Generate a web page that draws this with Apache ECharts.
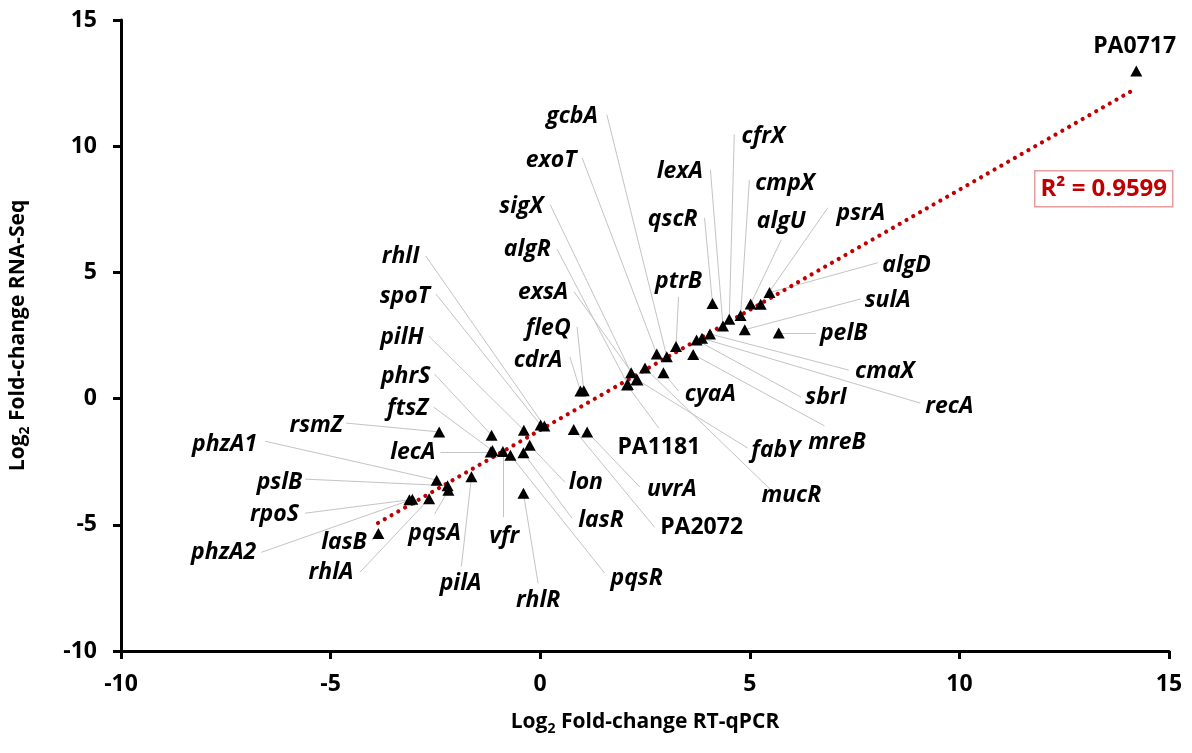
<!DOCTYPE html>
<html>
<head>
<meta charset="utf-8">
<script src="https://cdn.jsdelivr.net/npm/echarts@6/dist/echarts.min.js"></script>
<style>html,body{margin:0;padding:0;background:#fff;}#chart{width:1192px;height:753px;}</style>
</head>
<body>
<div id="chart"></div>
<script>
// ---- data ----
const genes = ['lasB','rpoS','phzA2','rhlA','phzA1','pslB','pqsA','pilA','rsmZ','phrS','lecA','ftsZ','vfr','pqsR','lasR','lon','rhlR','pilH','spoT','rhlI','PA2072','uvrA','cdrA','fleQ','PA1181','algR','sigX','exsA','fabY','mucR','exoT','gcbA','cyaA','ptrB','mreB','sbrI','recA','cmaX','qscR','lexA','cfrX','cmpX','sulA','algU','psrA','algD','pelB','PA0717'];
const rtqpcr = [-3.86,-3.12,-3.05,-2.65,-2.47,-2.21,-2.19,-1.64,-2.41,-1.16,-1.18,-1.14,-0.89,-0.71,-0.40,-0.25,-0.40,-0.39,0.01,0.10,0.80,1.12,0.96,1.04,2.07,2.09,2.17,2.30,2.32,2.50,2.78,3.02,2.94,3.24,3.65,3.73,3.86,4.05,4.11,4.36,4.51,4.78,4.88,5.02,5.26,5.47,5.69,14.22];
const rnaseq = [-5.34,-4.01,-3.99,-3.97,-3.23,-3.45,-3.63,-3.10,-1.32,-1.45,-2.12,-2.06,-2.10,-2.24,-2.15,-1.85,-3.75,-1.25,-1.05,-1.09,-1.22,-1.32,0.30,0.31,0.54,0.56,1.02,0.76,0.74,1.21,1.77,1.66,1.02,2.06,1.75,2.32,2.39,2.56,3.77,2.88,3.14,3.29,2.73,3.75,3.74,4.20,2.60,12.98];
const trendX = [-3.87, 14.12];
const trendY = [-4.93, 12.2];
const rSquared = '0.9599';
const xTicks = [-10, -5, 0, 5, 10, 15];
const yTicks = [-10, -5, 0, 5, 10, 15];

// ---- label layout (annotation placement, in axis units): text centre x,y ; leader start x,y ----
const labelLayout = {
  lasB:[-4.68,-5.69,-4.01,-5.62], rpoS:[-6.34,-4.58,-5.61,-4.54], phzA2:[-7.55,-6.09,-6.65,-6.09],
  rhlA:[-4.99,-6.88,-4.30,-6.88], phzA1:[-7.53,-1.81,-6.56,-1.69], pslB:[-6.22,-3.31,-5.61,-3.19],
  pqsA:[-2.52,-5.34,-2.52,-4.58], pilA:[-1.90,-7.32,-1.88,-6.65], rsmZ:[-5.34,-1.05,-4.63,-0.97],
  phrS:[-3.21,0.89,-2.52,0.97], lecA:[-3.04,-2.12,-2.38,-2.12], ftsZ:[-3.16,-0.38,-2.54,-0.34],
  vfr:[-0.86,-5.46,-0.89,-4.70], pqsR:[2.30,-7.12,1.54,-6.92], lasR:[1.45,-4.82,0.76,-4.74],
  lon:[1.09,-3.31,0.59,-3.31], rhlR:[-0.05,-8.00,-0.05,-7.32], pilH:[-3.30,2.44,-2.66,2.48],
  spoT:[-3.23,4.03,-2.49,4.15], rhlI:[-3.33,5.62,-2.73,5.65], PA2072:[3.85,-5.10,2.73,-5.10],
  uvrA:[3.14,-3.59,2.38,-3.51], cdrA:[-0.05,1.53,0.71,1.65], fleQ:[0.19,2.76,0.88,2.84],
  PA1181:[2.83,-1.92,2.83,-1.17], algR:[-0.31,5.89,0.40,5.93], sigX:[-0.45,7.60,0.24,7.68],
  exsA:[0.07,4.19,0.81,4.23], fabY:[5.62,-2.04,4.95,-1.96], mucR:[5.99,-3.83,5.51,-3.63],
  exoT:[0.26,9.42,1.00,9.54], gcbA:[0.76,11.17,1.59,11.25], cyaA:[4.06,0.18,3.30,0.30],
  ptrB:[3.30,4.66,3.30,4.03], mreB:[7.08,-1.73,6.78,-1.08], sbrI:[6.82,0.06,6.22,0.06],
  recA:[9.76,-0.30,9.07,-0.18], cmaX:[8.22,1.09,7.36,1.13], qscR:[3.16,7.08,3.92,7.16],
  lexA:[3.33,8.99,4.06,9.07], cfrX:[5.32,10.38,4.63,10.46], cmpX:[5.84,8.51,4.99,8.67],
  sulA:[8.29,3.87,7.65,3.95], algU:[5.75,7.00,5.75,6.29], psrA:[7.65,7.32,6.86,7.56],
  algD:[8.74,5.26,8.05,5.38], pelB:[7.24,2.60,6.58,2.60], PA0717:[14.18,13.95,null,null]
};

const FONT = 'Open Sans';
const chart = echarts.init(document.getElementById('chart'));

const points = genes.map((g, i) => [rtqpcr[i], rnaseq[i], g]);
const leaderData = [];
const labelData = [];
genes.forEach((g, i) => {
  const L = labelLayout[g];
  if (!L) return;
  labelData.push({
    value: [L[0], L[1]], name: g,
    label: {
      show: true, position: 'inside', formatter: g, opacity: 1,
      color: '#000', fontFamily: FONT, fontWeight: 'bold', fontSize: 23,
      fontStyle: /^PA\d/.test(g) ? 'normal' : 'italic'
    }
  });
  if (L[2] !== null) {
    leaderData.push({ coords: [[L[2], L[3]], [rtqpcr[i], rnaseq[i]]] });
  }
});

const axisCommon = {
  type: 'value', min: -10, max: 15, interval: 5,
  splitLine: { show: false },
  axisLine: { onZero: false, lineStyle: { color: '#000', width: 3 } },
  axisTick: { show: true, inside: false, length: 8, lineStyle: { color: '#000', width: 3 } },
  axisLabel: { color: '#000', fontFamily: FONT, fontWeight: 'bold', fontSize: 23 },
  nameLocation: 'middle',
  nameTextStyle: {
    rich: {
      a: { fontFamily: FONT, fontWeight: 'bold', fontSize: 21, color: '#000', lineHeight: 27 },
      s: { fontFamily: FONT, fontWeight: 'bold', fontSize: 14, color: '#000', lineHeight: 15, verticalAlign: 'bottom' }
    }
  }
};

chart.setOption({
  animation: false,
  backgroundColor: '#fff',
  grid: { left: 117, right: 23, top: 20, bottom: 102, containLabel: false },
  xAxis: Object.assign({}, axisCommon, {
    name: '{a|Log}{s|2}{a| Fold-change RT-qPCR}', nameGap: 58,
    axisLabel: Object.assign({}, axisCommon.axisLabel, { margin: 22, formatter: v => xTicks.includes(v) ? String(v) : '' })
  }),
  yAxis: Object.assign({}, axisCommon, {
    name: '{a|Log}{s|2}{a| Fold-change RNA-Seq}', nameGap: 89, nameRotate: 90,
    axisLabel: Object.assign({}, axisCommon.axisLabel, { margin: 24, formatter: v => yTicks.includes(v) ? String(v) : '' })
  }),
  series: [
    {
      type: 'lines', coordinateSystem: 'cartesian2d', z: 1, silent: true,
      lineStyle: { color: '#c4c4c4', width: 1, opacity: 1 },
      data: leaderData
    },
    {
      type: 'line', z: 2, silent: true, symbol: 'none',
      data: trendX.map((x, i) => [x, trendY[i]]),
      lineStyle: { color: '#c00000', width: 4.2, type: [0.01, 7.8], cap: 'round' }
    },
    {
      type: 'scatter', z: 3, symbol: 'triangle', symbolSize: [12, 11],
      itemStyle: { color: '#000', opacity: 1 },
      data: points
    },
    {
      type: 'scatter', z: 4, symbolSize: 0.1, silent: true,
      itemStyle: { color: 'rgba(0,0,0,0)', opacity: 1 },
      data: labelData
    }
  ],
  graphic: [{
    type: 'group', left: 1034, top: 170,
    children: [
      { type: 'rect', shape: { x: 0, y: 0, width: 138, height: 36 },
        style: { fill: '#fff', stroke: '#e59c9c', lineWidth: 1.5 } },
      { type: 'text', x: 69, y: 18,
        style: { text: 'R² = ' + rSquared, align: 'center', verticalAlign: 'middle',
                 font: 'bold 24px "' + FONT + '"', fill: '#c00000' } }
    ]
  }]
});
</script>
</body>
</html>
